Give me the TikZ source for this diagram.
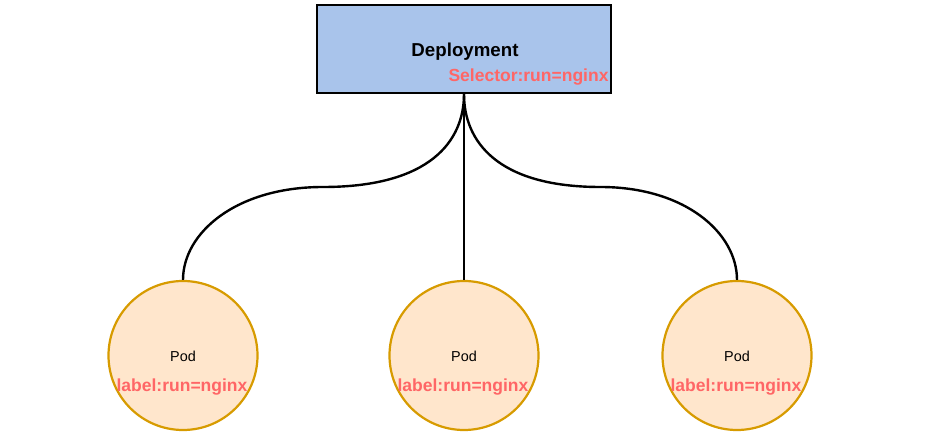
\documentclass[tikz,border=0pt]{standalone}
\usepackage{fontspec}
\setmainfont{Liberation Sans}
\definecolor{depfill}{HTML}{A9C4EB}
\definecolor{podfill}{HTML}{FFE6CC}
\definecolor{podline}{HTML}{D79B00}
\definecolor{lblred}{HTML}{FF6666}
\begin{document}
\begin{tikzpicture}[x=1pt,y=-1pt,
  depbox/.style={draw=black,fill=depfill,line width=2.2pt,minimum width=294pt,minimum height=88pt,inner sep=0pt},
  podcirc/.style={circle,draw=podline,fill=podfill,line width=2.2pt,minimum size=149pt,inner sep=0pt},
  deptxt/.style={font=\fontsize{18.7}{22}\selectfont\bfseries,text=black,inner sep=0pt},
  redtxt/.style={font=\fontsize{17.5}{21}\selectfont\bfseries,text=lblred,inner sep=0pt},
  podtxt/.style={font=\fontsize{14.4}{17}\selectfont,text=black,inner sep=0pt},
  conn/.style={draw=black,line width=2.4pt}]
\useasboundingbox (0,0) rectangle (930,435);
\node[depbox] (dep) at (464,49) {};
\node[deptxt] (deplbl) at (465,52) {Deployment};
\node[redtxt] (sel) at (528.5,77) {Selector:run=nginx};
\node[podcirc] (p1) at (183,355.5) {};
\node[podcirc] (p2) at (464,355.5) {};
\node[podcirc] (p3) at (737,355.5) {};
\node[podtxt] (t1) at (183,356.5) {Pod};
\node[podtxt] (t2) at (464,356.5) {Pod};
\node[podtxt] (t3) at (737,356.5) {Pod};
\node[redtxt] (l1) at (182,387) {label:run=nginx};
\node[redtxt] (l2) at (463,387) {label:run=nginx};
\node[redtxt] (l3) at (736,387) {label:run=nginx};
\coordinate (ml) at (323,187);
\coordinate (mr) at (600.5,187);
\draw[conn] (dep.south) .. controls +(0,47) and +(107,0) .. (ml)
  .. controls +(-87,0) and +(0,-47) .. (p1.north);
\draw[conn] (dep.south) -- (p2.north);
\draw[conn] (dep.south) .. controls +(0,47) and +(-103.5,0) .. (mr)
  .. controls +(84.5,0) and +(0,-47) .. (p3.north);
\end{tikzpicture}
\end{document}
